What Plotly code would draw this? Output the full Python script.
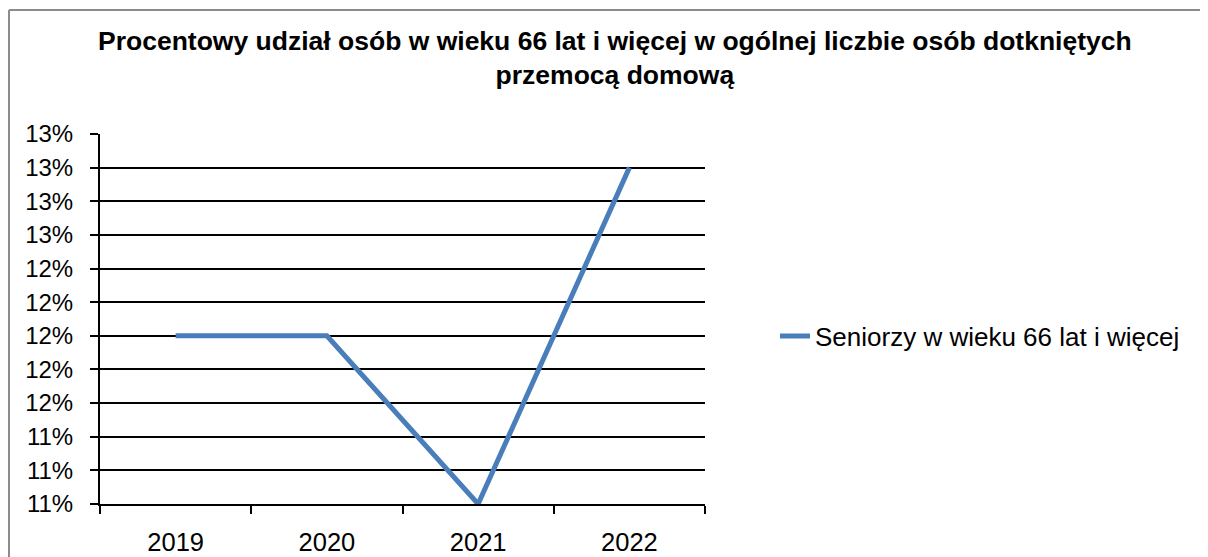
import plotly.graph_objects as go

years = ["2019", "2020", "2021", "2022"]
share = [0.12, 0.12, 0.11, 0.13]
series_name = "Seniorzy w wieku 66 lat i więcej"
title_text = "<b>Procentowy udział osób w wieku 66 lat i więcej w ogólnej liczbie osób dotkniętych<br>przemocą domową</b>"

OFF = 8  # page body margin
W, H = 1208 - OFF, 557 - OFF
L, R, T, B = 100 - OFF, 705 - OFF, 134 - OFF, 504 - OFF


def px_x(p):
    return (p - OFF - L) / (R - L)


def px_y(p):
    return (B - (p - OFF)) / (B - T)


fig = go.Figure()
fig.add_trace(go.Scatter(
    x=years, y=share, mode="lines", name=series_name,
    line=dict(color="#4A7EBB", width=5),
))

fig.update_layout(
    width=W, height=H,
    margin=dict(l=L, r=W - R, t=T, b=H - B, autoexpand=False),
    paper_bgcolor="white", plot_bgcolor="white",
    font=dict(family="Liberation Sans, Arial, sans-serif", size=24, color="black"),
    showlegend=True,
    legend=dict(x=px_x(775), y=px_y(336), xanchor="left", yanchor="middle",
                font=dict(size=26), bgcolor="rgba(0,0,0,0)", itemwidth=30),
    annotations=[dict(
        text=title_text, x=px_x(615), y=px_y(58), xref="paper", yref="paper",
        xanchor="center", yanchor="middle", showarrow=False,
        font=dict(size=26.5, color="black"), align="center",
    )],
    shapes=[
        dict(type="line", xref="paper", yref="paper", x0=px_x(9), x1=px_x(9), y0=px_y(560), y1=px_y(10),
             line=dict(color="#8c8c8c", width=2)),
        dict(type="line", xref="paper", yref="paper", x0=px_x(9), x1=px_x(1212), y0=px_y(10), y1=px_y(10),
             line=dict(color="#8c8c8c", width=2)),
    ],
)

fig.update_xaxes(
    type="category", showgrid=False, showline=True, linecolor="black", linewidth=2,
    ticks="outside", tickson="boundaries", ticklen=8, tickwidth=2, tickcolor="black",
    tickfont=dict(size=25.5), ticklabelstandoff=14, range=[-0.5, 3.5], fixedrange=True,
)
fig.update_yaxes(
    range=[0.11, 0.132], tick0=0.11, dtick=0.002, tickformat=".0%",
    showgrid=True, gridcolor="black", gridwidth=1.5,
    showline=True, linecolor="black", linewidth=2,
    ticks="outside", ticklen=8, tickwidth=2, tickcolor="black",
    tickfont=dict(size=24), ticklabelstandoff=12, zeroline=False, fixedrange=True,
)

fig.write_html("out.html")
